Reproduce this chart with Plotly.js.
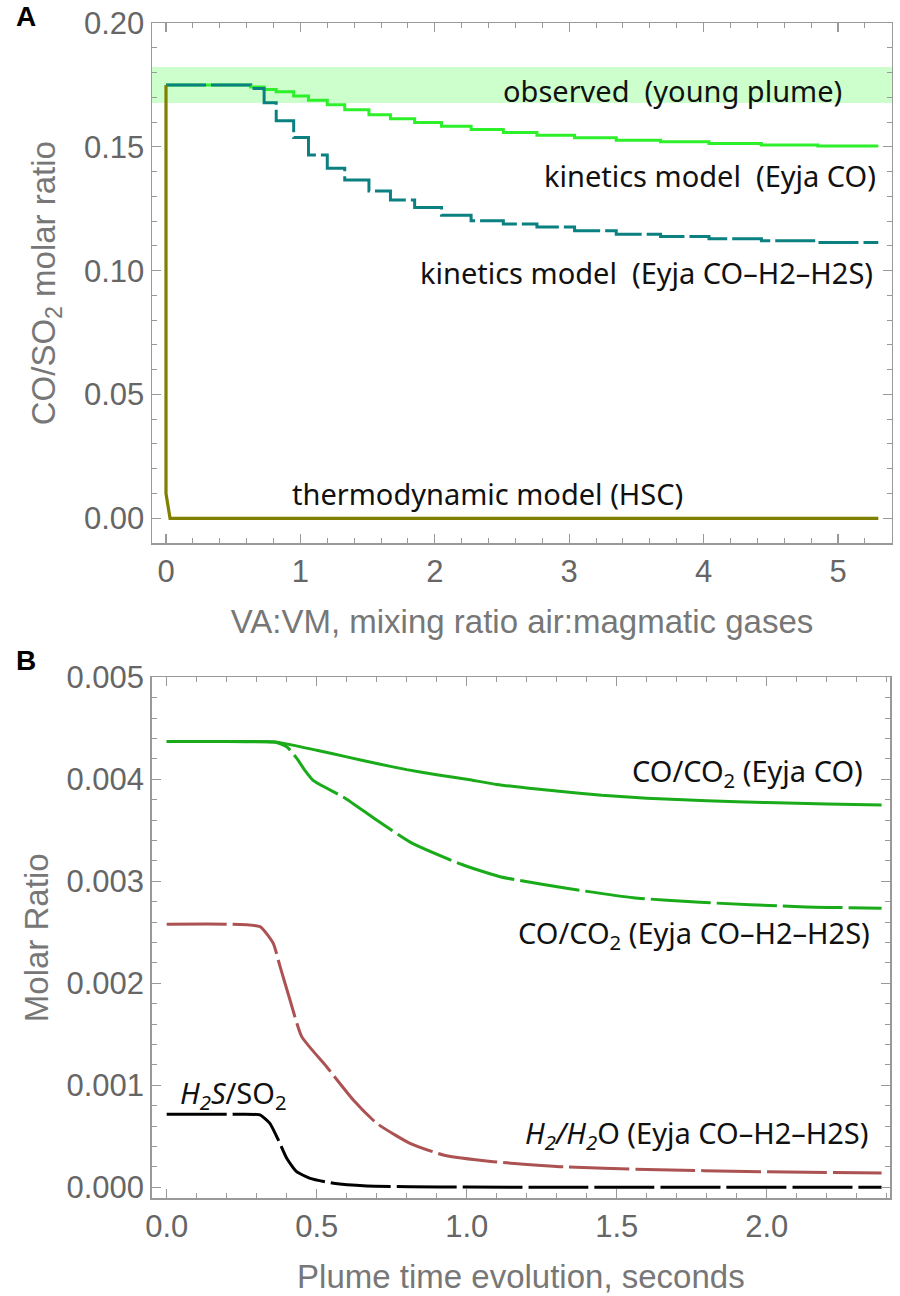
<!DOCTYPE html>
<html>
<head>
<meta charset="utf-8">
<script src="https://cdn.plot.ly/plotly-3.0.1.min.js"></script>
<style>
  html, body { margin: 0; padding: 0; background: #fff; }
  #chart { width: 900px; height: 1296px; }
</style>
</head>
<body>
<div id="chart"></div>
<script>
// ---- panel A: CO/SO2 vs mixing ratio air:magmatic gases ----
var mixRatio   = [0, 0.63, 0.73, 0.82, 0.95, 1.06, 1.2, 1.33, 1.51, 1.67, 1.85, 2.05, 2.27, 2.51, 2.76, 3.04, 3.35, 3.68, 4.04, 4.43, 4.85, 5.3]
var kinEyjaCO  = [0.175, 0.1742, 0.1731, 0.1722, 0.1705, 0.1688, 0.167, 0.165, 0.163, 0.1613, 0.1598, 0.1583, 0.157, 0.1558, 0.1547, 0.1537, 0.1527, 0.152, 0.1513, 0.1507, 0.1503, 0.1503]
var kinEyjaAll = [0.175, 0.1736, 0.1678, 0.1605, 0.1538, 0.1467, 0.1413, 0.1366, 0.1322, 0.1285, 0.1255, 0.1224, 0.1201, 0.1188, 0.1176, 0.1161, 0.1147, 0.1138, 0.1129, 0.1121, 0.1114, 0.1114]
var thermoX    = [0, 0, 0.03, 5.3]
var thermoY    = [0.175, 0.01, 0, 0]
var observedBand = [0.1677, 0.1822]

// ---- panel B: molar ratios vs plume time (s) ----
var tCO      = [0, 0.2, 0.33, 0.36, 0.42, 0.5, 0.6, 0.7, 0.8, 0.9, 1.0, 1.1, 1.2, 1.3, 1.45, 1.6, 1.8, 2.0, 2.2, 2.383]
var coEyjaCO = [0.00437, 0.00437, 0.004368, 0.004365, 0.004335, 0.004285, 0.00422, 0.004155, 0.004095, 0.004045, 0.004, 0.00395, 0.003915, 0.003885, 0.003843, 0.003815, 0.00379, 0.003772, 0.003758, 0.003748]
var tCO2      = [0, 0.2, 0.36, 0.40, 0.435, 0.46, 0.488, 0.595, 0.697, 0.816, 0.982, 1.111, 1.333, 1.555, 1.778, 2.111, 2.383]
var coEyjaAll = [0.00437, 0.00437, 0.004365, 0.00432, 0.0042, 0.00409, 0.00399, 0.003815, 0.003605, 0.003377, 0.003167, 0.003045, 0.002931, 0.002839, 0.002794, 0.002751, 0.002735]
var tH2    = [0, 0.2, 0.311, 0.355, 0.378, 0.411, 0.45, 0.533, 0.622, 0.7, 0.811, 0.922, 1.089, 1.311, 1.6, 1.978, 2.383]
var h2h2o  = [0.00258, 0.00258, 0.002555, 0.002392, 0.002163, 0.001836, 0.001477, 0.001182, 0.000856, 0.000627, 0.000431, 0.000317, 0.000251, 0.000202, 0.000175, 0.000153, 0.000140]
var tH2S   = [0, 0.2, 0.311, 0.344, 0.372, 0.4, 0.433, 0.478, 0.556, 0.667, 0.811, 1.0, 1.4, 2.383]
var h2sso2 = [0.000715, 0.000715, 0.000709, 0.000627, 0.000464, 0.000284, 0.000153, 0.000088, 0.000039, 0.000013, 0.000006, 0.000002, 0.000001, 0.000001]

var tickFont = {family: 'Liberation Sans, Arial, sans-serif', size: 31, color: '#666'}
var titleFont = {family: 'Liberation Sans, Arial, sans-serif', size: 33, color: '#777'}
var labFont = {family: 'Noto Sans, sans-serif', size: 29, color: '#111'}
var frame = '#999'

function axisBase(extra) {
    var a = {
        showgrid: false, zeroline: false,
        showline: true, linecolor: frame, linewidth: 1.5, mirror: 'ticks',
        ticks: 'inside', ticklen: 9, tickwidth: 1.3, tickcolor: frame,
        tickfont: tickFont, fixedrange: true,
    }
    for (var k in extra) a[k] = extra[k]
    return a
}

var data = [
    {x: mixRatio, y: kinEyjaCO, xaxis: 'x', yaxis: 'y', mode: 'lines', line: {shape: 'hv', color: '#2ef02a', width: 3}},
    {x: mixRatio, y: kinEyjaAll, xaxis: 'x', yaxis: 'y', mode: 'lines', line: {shape: 'hv', color: '#0a8080', width: 3, dash: '40px,5px'}},
    {x: thermoX, y: thermoY, xaxis: 'x', yaxis: 'y', mode: 'lines', line: {color: '#7f7f00', width: 3.2}},

    {x: tCO, y: coEyjaCO, xaxis: 'x2', yaxis: 'y2', mode: 'lines', line: {shape: 'spline', smoothing: 0.5, color: '#1aab1a', width: 3}},
    {x: tCO2, y: coEyjaAll, xaxis: 'x2', yaxis: 'y2', mode: 'lines', line: {shape: 'spline', smoothing: 0.5, color: '#1aab1a', width: 3, dash: '60px,6px'}},
    {x: tH2, y: h2h2o, xaxis: 'x2', yaxis: 'y2', mode: 'lines', line: {shape: 'spline', smoothing: 0.5, color: '#ac5252', width: 3, dash: '60px,6px'}},
    {x: tH2S, y: h2sso2, xaxis: 'x2', yaxis: 'y2', mode: 'lines', line: {shape: 'spline', smoothing: 0.5, color: '#000', width: 3, dash: '60px,6px'}},
]

var layout = {
    width: 900, height: 1296,
    margin: {l: 0, r: 0, t: 0, b: 0},
    paper_bgcolor: '#fff', plot_bgcolor: '#fff',
    showlegend: false,
    xaxis: axisBase({domain: [0.16889, 0.99111], range: [-0.1042, 5.4018], dtick: 1, tick0: 0, anchor: 'y',
        minor: {ticks: 'inside', ticklen: 5, tickwidth: 1, tickcolor: frame, dtick: 0.2, tick0: 0},
        title: {text: 'VA:VM, mixing ratio air:magmatic gases', font: titleFont, standoff: 22}}),
    yaxis: axisBase({domain: [0.58079, 0.98225], range: [-0.0101, 0.2], dtick: 0.05, tick0: 0, tickformat: '.2f', anchor: 'x',
        minor: {ticks: 'inside', ticklen: 5, tickwidth: 1, tickcolor: frame, dtick: 0.01, tick0: 0},
        title: {text: 'CO/SO<sub>2</sub> molar ratio', font: titleFont, standoff: 18}}),
    xaxis2: axisBase({domain: [0.16856, 0.98889], range: [-0.05, 2.411], dtick: 0.5, tick0: 0, tickformat: '.1f', anchor: 'y2',
        minor: {ticks: 'inside', ticklen: 5, tickwidth: 1, tickcolor: frame, dtick: 0.1, tick0: 0},
        title: {text: 'Plume time evolution, seconds', font: titleFont, standoff: 22}}),
    yaxis2: axisBase({domain: [0.07539, 0.47739], range: [-0.000108, 0.005], dtick: 0.001, tick0: 0, tickformat: '.3f', anchor: 'x2',
        minor: {ticks: 'inside', ticklen: 5, tickwidth: 1, tickcolor: frame, dtick: 0.0002, tick0: 0},
        title: {text: 'Molar Ratio', font: titleFont, standoff: 8}}),
    shapes: [
        {type: 'rect', xref: 'x domain', yref: 'y', x0: 0, x1: 1, y0: observedBand[0], y1: observedBand[1],
         fillcolor: '#ccffcc', line: {width: 0}, layer: 'below'},
    ],
    annotations: [
        {xref: 'paper', yref: 'paper', x: 0.015, y: 0.987, text: '<b>A</b>', showarrow: false, xanchor: 'left', yanchor: 'middle',
         font: {family: 'Liberation Sans, Arial, sans-serif', size: 28, color: '#000'}},
        {xref: 'paper', yref: 'paper', x: 0.015, y: 0.4907, text: '<b>B</b>', showarrow: false, xanchor: 'left', yanchor: 'middle',
         font: {family: 'Liberation Sans, Arial, sans-serif', size: 28, color: '#000'}},

        {xref: 'x', yref: 'y', x: 3.765, y: 0.1729, text: 'observed\u00a0 (young plume)', showarrow: false, xanchor: 'center', yanchor: 'middle', font: labFont},
        {xref: 'x', yref: 'y', x: 5.298, y: 0.1386, text: 'kinetics model\u00a0 (Eyja CO)', showarrow: false, xanchor: 'right', yanchor: 'middle', font: labFont},
        {xref: 'x', yref: 'y', x: 5.275, y: 0.0994, text: 'kinetics model\u00a0 (Eyja CO\u2013H2\u2013H2S)', showarrow: false, xanchor: 'right', yanchor: 'middle', font: labFont},
        {xref: 'x', yref: 'y', x: 2.392, y: 0.0101, text: 'thermodynamic model (HSC)', showarrow: false, xanchor: 'center', yanchor: 'middle', font: labFont},

        {xref: 'x2', yref: 'y2', x: 2.328, y: 0.004062, text: 'CO/CO<sub>2</sub> (Eyja CO)', showarrow: false, xanchor: 'right', yanchor: 'middle', font: labFont},
        {xref: 'x2', yref: 'y2', x: 2.351, y: 0.002474, text: 'CO/CO<sub>2</sub> (Eyja CO\u2013H2\u2013H2S)', showarrow: false, xanchor: 'right', yanchor: 'middle', font: labFont},
        {xref: 'x2', yref: 'y2', x: 2.344, y: 0.000513, text: '<i>H<sub>2</sub>/H<sub>2</sub></i>O (Eyja CO\u2013H2\u2013H2S)', showarrow: false, xanchor: 'right', yanchor: 'middle', font: labFont},
        {xref: 'x2', yref: 'y2', x: 0.038, y: 0.000905, text: '<i>H<sub>2</sub>S</i>/SO<sub>2</sub>', showarrow: false, xanchor: 'left', yanchor: 'middle', font: labFont},
    ],
}

Plotly.newPlot('chart', data, layout, {displayModeBar: false, staticPlot: true})
</script>
</body>
</html>
